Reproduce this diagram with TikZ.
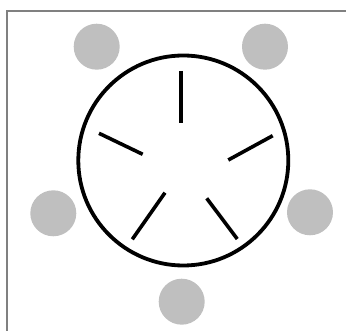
\documentclass[tikz,border=0pt]{standalone}
\usetikzlibrary{positioning}
\newlength{\pxu}
\setlength{\pxu}{0.02cm}
\tikzset{
  diner/.style={circle,fill=black!25,minimum size=46\pxu,inner sep=0pt},
  tablerim/.style={circle,draw,line width=3.8\pxu,minimum size=210\pxu,inner sep=0pt},
  stick/.style={line width=3.6\pxu,line cap=butt},
  frameline/.style={draw=black!50,line width=1.4\pxu}
}

\begin{document}
\begin{tikzpicture}[x=\pxu,y=\pxu]
        \useasboundingbox (-183.3,-170.5) rectangle (162.7,160.5);
        \draw[frameline] (162.7,149.5) -- (-176.3,149.5) -- (-176.3,-170.5);
        \node[tablerim] (table) at (0,0) {};
        \node[diner] (p1) at (-86.6,113.8) {};
        \node[diner] (p2) at (81.7,113.8) {};
        \node[diner] (p3) at (126.7,-51.8) {};
        \node[diner] (p4) at (-1.6,-141.2) {};
        \node[diner] (p5) at (-130,-52.8) {};
        \draw[stick] (-2.3,89.5) -- (-2.3,37.8);
        \draw[stick] (89.4,24.8) -- (45,0.5);
        \draw[stick] (54,-78.5) -- (23.4,-37.8);
        \draw[stick] (-51,-78.8) -- (-18.3,-32.2);
        \draw[stick] (-84.3,27.2) -- (-40.6,6.2);
      \end{tikzpicture}
\end{document}
